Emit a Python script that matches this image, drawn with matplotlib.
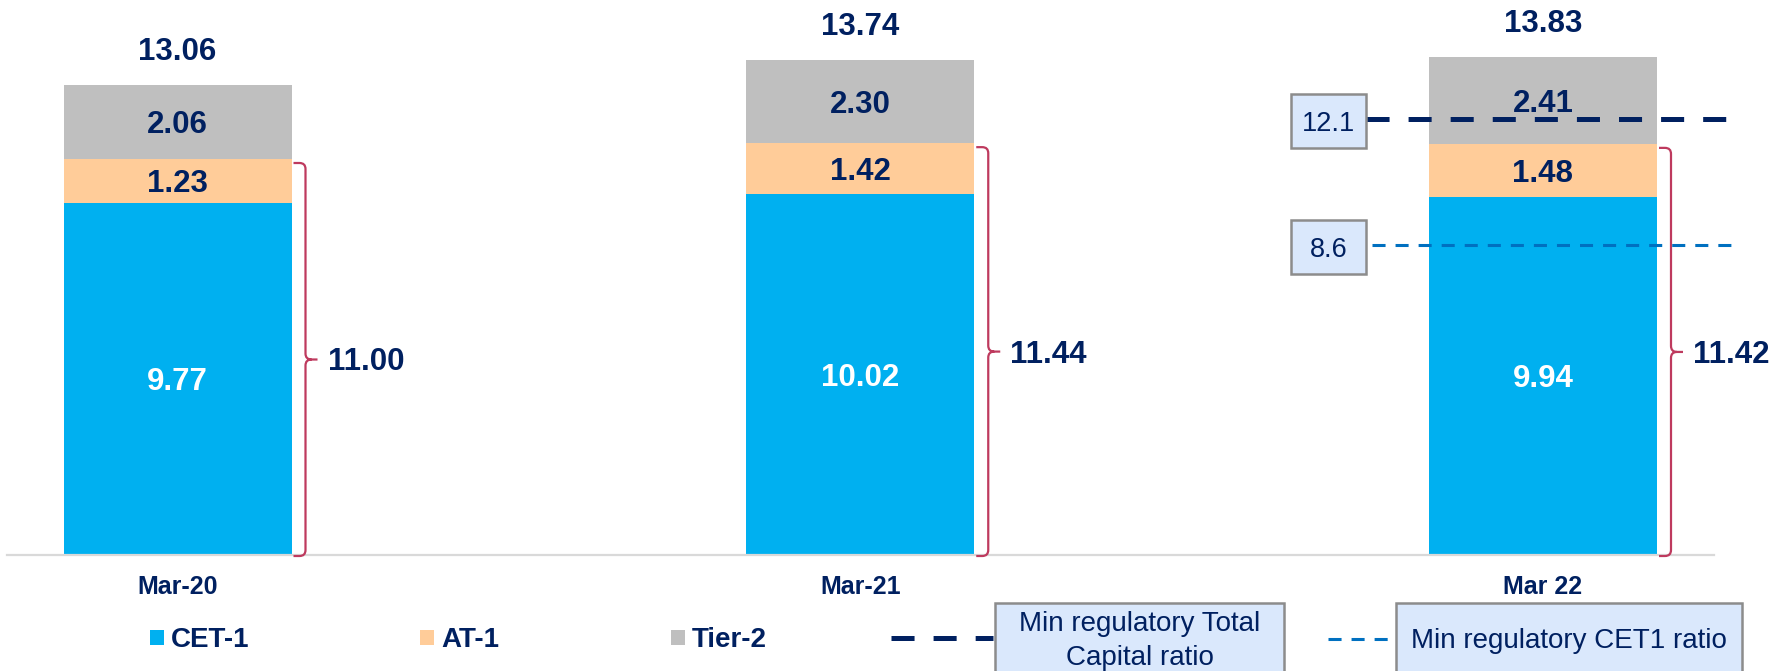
import matplotlib
matplotlib.use('Agg')
import matplotlib.pyplot as plt
from matplotlib.patches import Rectangle, PathPatch
from matplotlib.path import Path

# ---------------- data ----------------
categories = ['Mar-20', 'Mar-21', 'Mar 22']
cet1 = [9.77, 10.02, 9.94]
at1 = [1.23, 1.42, 1.48]
tier2 = [2.06, 2.30, 2.41]
totals = [13.06, 13.74, 13.83]
tier1 = [11.00, 11.44, 11.42]
min_total_ratio = 12.1
min_cet1_ratio = 8.6
series_labels = ['CET-1', 'AT-1', 'Tier-2']
line_labels = ['Min regulatory Total', 'Capital ratio', 'Min regulatory CET1 ratio']

# ---------------- style ----------------
NAVY = '#002060'
BLUE = '#00B0F0'
ORANGE = '#FFCC99'
GRAY = '#BFBFBF'
BRACE = '#BE3A5E'
LINE2 = '#0070C0'
BOXFILL = '#DAE8FC'
BOXEDGE = '#8C8C8C'

plt.rcParams['font.family'] = ['Liberation Sans', 'DejaVu Sans']
plt.rcParams['lines.scale_dashes'] = False

W, H = 1791, 671
fig = plt.figure(figsize=(W / 100, H / 100), dpi=100)

PX_X = 682.75   # pixels per category unit
PX_Y = 36.0     # pixels per percentage point
x0_px = 177.5
base_px = 555
xlim = (-0.25, 2.25)
ax_left = x0_px + xlim[0] * PX_X
ax_w = (xlim[1] - xlim[0]) * PX_X
ax = fig.add_axes([ax_left / W, (H - base_px) / H, ax_w / W, base_px / H])
ax.set_xlim(*xlim)
ax.set_ylim(0, base_px / PX_Y)

x = list(range(len(categories)))
bw = 228 / PX_X
bottom2 = [c + a for c, a in zip(cet1, at1)]
ax.bar(x, cet1, width=bw, color=BLUE, linewidth=0, zorder=2)
ax.bar(x, at1, width=bw, bottom=cet1, color=ORANGE, linewidth=0, zorder=2)
ax.bar(x, tier2, width=bw, bottom=bottom2, color=GRAY, linewidth=0, zorder=2)

for s in ['top', 'left', 'right']:
    ax.spines[s].set_visible(False)
ax.spines['bottom'].set_color('#D9D9D9')
ax.spines['bottom'].set_linewidth(1.6)
ax.set_xticks([])
ax.set_yticks([])

NUM = dict(fontsize=22.5, fontweight='bold', ha='center', va='baseline')
for i in x:
    # segment labels (cap centre at segment middle)
    ax.annotate(f'{cet1[i]:.2f}', (i, cet1[i] / 2), xytext=(0, -11), textcoords='offset pixels',
                color='white', zorder=3, **NUM)
    ax.annotate(f'{at1[i]:.2f}', (i, cet1[i] + at1[i] / 2), xytext=(0, -11), textcoords='offset pixels',
                color=NAVY, zorder=3, **NUM)
    ax.annotate(f'{tier2[i]:.2f}', (i, bottom2[i] + tier2[i] / 2), xytext=(0, -11), textcoords='offset pixels',
                color=NAVY, zorder=3, **NUM)
    ax.annotate(f'{totals[i]:.2f}', (i, totals[i]), xytext=(0, 25), textcoords='offset pixels',
                color=NAVY, zorder=3, annotation_clip=False, **NUM)
    ax.annotate(categories[i], (i, 0), xytext=(0, -39), textcoords='offset pixels',
                color=NAVY, fontsize=18, fontweight='bold', ha='center', va='baseline',
                annotation_clip=False)

# braces for Tier-1 (CET-1 + AT-1)
dx = 1 / PX_X
dy = 1 / PX_Y
for i in x:
    R = i + bw / 2
    top = tier1[i] - 4 * dy
    bot = 0 - 1 * dy
    mid = (top + bot) / 2
    xs, xv, xt = R + 2 * dx, R + 14 * dx, R + 26 * dx
    rx, ry = 6 * dx, 6 * dy
    verts = [(xs, top), (xv - rx, top), (xv, top), (xv, top - ry),
             (xv, mid + ry), (xv, mid), (xv + rx, mid), (xt, mid),
             (xv + rx, mid), (xv, mid), (xv, mid - ry),
             (xv, bot + ry), (xv, bot), (xv - rx, bot), (xs, bot)]
    codes = [Path.MOVETO, Path.LINETO, Path.CURVE3, Path.CURVE3,
             Path.LINETO, Path.CURVE3, Path.CURVE3, Path.LINETO,
             Path.MOVETO, Path.CURVE3, Path.CURVE3,
             Path.LINETO, Path.CURVE3, Path.CURVE3, Path.LINETO]
    ax.add_patch(PathPatch(Path(verts, codes), facecolor='none', edgecolor=BRACE,
                           linewidth=1.6, clip_on=False, zorder=3))
    ax.annotate(f'{tier1[i]:.2f}', (xt, mid), xytext=(10, -11), textcoords='offset pixels',
                color=NAVY, fontsize=22.5, fontweight='bold', ha='left', va='baseline',
                annotation_clip=False)

# regulatory minimum lines for the last year
bx0 = (1291 - x0_px) / PX_X
bx1 = (1366 - x0_px) / PX_X
ax.plot([bx1, (1726 - x0_px) / PX_X], [min_total_ratio] * 2, color=NAVY, lw=3.6,
        dashes=(16.6, 13.7), solid_capstyle='butt', dash_capstyle='butt', clip_on=False, zorder=4)
ax.plot([(1372 - x0_px) / PX_X, (1736 - x0_px) / PX_X], [min_cet1_ratio] * 2, color=LINE2, lw=2.2,
        dashes=(9.4, 7.2), dash_capstyle='butt', clip_on=False, zorder=4)
for val in [min_total_ratio, min_cet1_ratio]:
    yc = val - 2 * dy
    ax.add_patch(Rectangle((bx0, yc - 27 * dy), bx1 - bx0, 54 * dy, facecolor=BOXFILL,
                           edgecolor=BOXEDGE, linewidth=1.8, clip_on=False, zorder=5))
    ax.annotate(f'{val:.1f}', ((bx0 + bx1) / 2, yc), xytext=(0, -10), textcoords='offset pixels',
                color=NAVY, fontsize=19.5, ha='center', va='baseline', zorder=6,
                annotation_clip=False)

# ---------------- legend (figure pixel space) ----------------
lax = fig.add_axes([0, 0, 1, 1], zorder=5)
lax.set_xlim(0, W)
lax.set_ylim(H, 0)
lax.axis('off')

sw = [(150, BLUE), (420, ORANGE), (671, GRAY)]
for (mx, col), lab in zip(sw, series_labels):
    lax.add_patch(Rectangle((mx, 630), 14, 15, facecolor=col, edgecolor='none'))
    lax.text(mx + 21, 647, lab, color=NAVY, fontsize=20, fontweight='bold',
             ha='left', va='baseline')

lax.plot([891, 993], [638, 638], color=NAVY, lw=3.6, dashes=(16.6, 13.7), dash_capstyle='butt')
lax.add_patch(Rectangle((995, 603), 289, 100, facecolor=BOXFILL, edgecolor=BOXEDGE, linewidth=1.8))
lax.text(1139.5, 631, line_labels[0], color=NAVY, fontsize=20, ha='center', va='baseline')
lax.text(1139.5, 665, line_labels[1], color=NAVY, fontsize=20, ha='center', va='baseline')

lax.plot([1328, 1388], [639, 639], color=LINE2, lw=2.2, dashes=(9.4, 7.2), dash_capstyle='butt')
lax.add_patch(Rectangle((1396, 603), 346, 100, facecolor=BOXFILL, edgecolor=BOXEDGE, linewidth=1.8))
lax.text(1569, 648, line_labels[2], color=NAVY, fontsize=20, ha='center', va='baseline')

fig.savefig('out.png', dpi=100, facecolor='white')
